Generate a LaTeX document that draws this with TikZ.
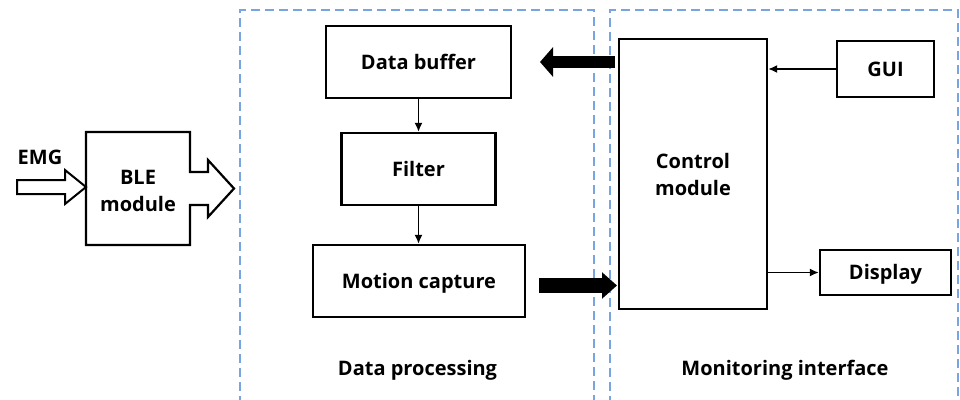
\documentclass[tikz,border=0pt]{standalone}
\usepackage{fontspec}
\setmainfont{Open Sans}
\usetikzlibrary{arrows.meta}
\definecolor{dashblue}{RGB}{120,165,225}
\begin{document}
\begin{tikzpicture}[x=1pt,y=-1pt,
  every node/.style={font=\fontsize{20}{27}\selectfont\bfseries, inner sep=0pt},
  boxbase/.style={draw, line width=2.2pt},
  blk/.style={boxbase, text height=14.3pt, text depth=0pt},
  thinarrow/.style={line width=1.9pt, -{Latex[length=9pt,width=8pt]}},
  fatleft/.style={line width=12pt, -{Triangle[length=13pt,width=29pt]}},
  fatright/.style={line width=15pt, -{Triangle[length=15pt,width=25.6pt]}},
  grp/.style={draw=dashblue, line width=1.6pt, dash pattern=on 9pt off 5pt},
  outline/.style={line width=2pt, line join=miter},
]
\fill[white] (0,0) rectangle (960,399);
\useasboundingbox (0,0) rectangle (960,399);

% group frames
\draw[grp] (240,405) -- (240,10) -- (594,10) -- (594,405);
\draw[grp] (610,405) -- (610,10) -- (958,10) -- (958,405);

% data processing
\node[blk, minimum width=185pt, minimum height=72pt] (buf) at (418.5,62) {Data buffer};
\node[blk, minimum width=154pt, minimum height=72pt] (fil) at (418.5,169) {Filter};
\node[blk, minimum width=212pt, minimum height=72pt] (mot) at (419,281) {Motion capture};

% monitoring interface
\node[boxbase, align=center, minimum width=148pt, minimum height=270pt] (ctl) at (693,174) {Control\\module};
\node[blk, minimum width=97pt, minimum height=56pt] (gui) at (885.5,69) {GUI};
\node[blk, minimum width=131pt, minimum height=45pt] (dsp) at (885.5,272.5) {Display};

% BLE module and EMG input
\draw[outline, line width=2.2pt] (86,132) -- (190,132) -- (190,172) -- (208,172) -- (208,160)
  -- (234,188.5) -- (208,217) -- (208,205) -- (190,205) -- (190,245) -- (86,245) -- cycle;
\node[align=center] (ble) at (138,191) {BLE\\module};
\node (emg) at (40,157.5) {EMG};
\draw[outline] (17,180) -- (65,180) -- (65,170) -- (86,187) -- (65,204) -- (65,194) -- (17,194) -- cycle;

% thin connectors
\draw[thinarrow] (buf.south) -- (buf.south |- fil.north);
\draw[thinarrow] (fil.south) -- (fil.south |- mot.north);
\draw[thinarrow] (gui.west) -- (gui.west -| ctl.east);
\draw[thinarrow] (ctl.east |- dsp.west) -- (dsp.west);

% fat arrows
\coordinate (fa1s) at (615,62);
\coordinate (fa1e) at (540,62);
\draw[fatleft] (fa1s) -- (fa1e);
\coordinate (fa2s) at (539,285.5);
\coordinate (fa2e) at (617,285.5);
\draw[fatright] (fa2s) -- (fa2e);

% group labels
\node[anchor=base] (lp) at (417.5,375) {Data processing};
\node[anchor=base] (lm) at (785,375) {Monitoring interface};
\end{tikzpicture}
\end{document}
